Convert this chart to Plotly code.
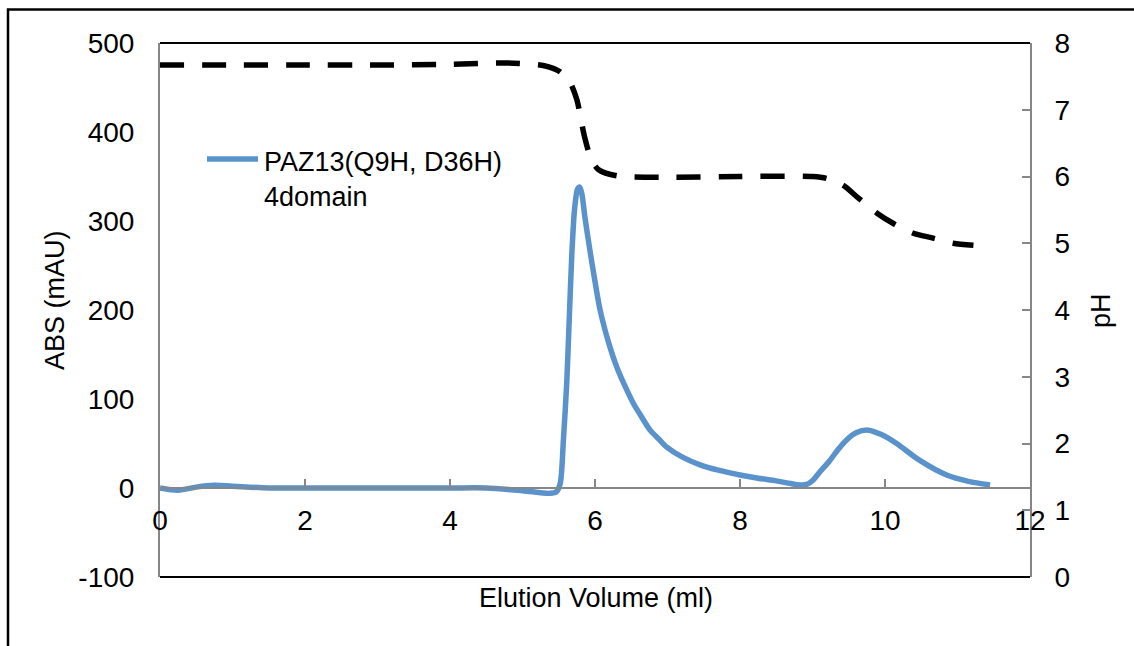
import plotly.graph_objects as go

# Elution profile: absorbance (mAU) vs elution volume (ml)
abs_volume = [0, 0.25, 0.5, 0.75, 1.0, 1.5, 2, 3, 4, 4.5, 5.0, 5.38, 5.47, 5.52,
              5.565, 5.61, 5.645, 5.68, 5.72, 5.76, 5.79, 5.82, 5.86, 5.93, 6.0,
              6.07, 6.2, 6.3, 6.4, 6.53, 6.65, 6.76, 6.88, 6.99, 7.2, 7.45, 7.7,
              8.0, 8.25, 8.5, 8.7, 8.83, 8.92, 9.01, 9.1, 9.24, 9.35, 9.47, 9.6,
              9.77, 9.95, 10.16, 10.48, 10.85, 11.15, 11.45]
abs_mau = [0, -2.5, 1, 3, 2, 0, 0, 0, 0, 0, -3, -6, -4, 5,
           55, 118, 190, 262, 315, 336, 338, 330, 305, 267, 232,
           200, 160, 136, 117, 95, 79, 65, 55, 46, 35, 26, 20,
           14.6, 11, 8, 5, 3.4, 4, 9, 18, 31, 43, 54, 62,
           65, 60, 50, 31, 14.6, 7.5, 3.4]

# pH gradient along the same elution volume
ph_volume = [0, 1, 2, 3, 4, 4.8, 5.3, 5.5, 5.65, 5.75, 5.85, 5.95, 6.05, 6.3,
             7, 8, 9.0, 9.2, 9.42, 9.63, 9.89, 10.11, 10.39, 10.65, 10.94, 11.22]
ph_value = [7.67, 7.67, 7.67, 7.67, 7.68, 7.70, 7.66, 7.58, 7.42, 7.15, 6.62,
            6.25, 6.10, 6.01, 5.99, 6.0, 6.0, 5.97, 5.87, 5.68, 5.45, 5.30,
            5.15, 5.08, 5.0, 4.97]

x_ticks = [0, 2, 4, 6, 8, 10, 12]
abs_ticks = [-100, 0, 100, 200, 300, 400, 500]
abs_tick_text = ["-100", "0", "100", "200", "300", "400", "500"]
series_name = "PAZ13(Q9H, D36H)<br>4domain"

BLUE = "#5A92CC"
GRAY = "#868686"
TICK_FONT = dict(family="Liberation Sans Narrow, Arial Narrow, Liberation Sans, sans-serif",
                 size=28, color="#000000")
TEXT_FONT = dict(family="Liberation Sans, Arial, sans-serif", size=27, color="#000000")

# plot-area geometry in pixels (used for paper-coordinate conversions)
W, H = 1134, 646
L, R, T, B = 160, 104, 43, 69
PW, PH = W - L - R, H - T - B


def px_x(px):
    return (px - L) / PW


def px_y(py):
    return (H - B - py) / PH


fig = go.Figure()

fig.add_trace(go.Scatter(
    x=abs_volume, y=abs_mau, mode="lines", name=series_name,
    line=dict(color=BLUE, width=5.5, shape="spline", smoothing=0.8),
    yaxis="y", showlegend=False,
))

fig.add_trace(go.Scatter(
    x=ph_volume, y=ph_value, mode="lines", name="pH",
    line=dict(color="#000000", width=5.5, dash="24px,18px", shape="spline", smoothing=0.7),
    yaxis="y2", showlegend=False,
))

fig.update_layout(
    width=W, height=H,
    margin=dict(l=L, r=R, t=T, b=B, pad=0),
    paper_bgcolor="white", plot_bgcolor="white",
    xaxis=dict(
        range=[0, 12], tickvals=x_ticks, anchor="free", position=100 / 600,
        showline=True, linecolor=GRAY, linewidth=2,
        ticks="inside", ticklen=8, tickcolor=GRAY, tickwidth=1.5,
        showgrid=False, zeroline=False, tickfont=TICK_FONT,
        ticklabelstandoff=7,
    ),
    yaxis=dict(
        range=[-100, 500], tickvals=abs_ticks, ticktext=abs_tick_text,
        showline=True, linecolor=GRAY, linewidth=2,
        ticks="", showgrid=False, zeroline=False, tickfont=TICK_FONT,
        ticklabelstandoff=18,
    ),
    yaxis2=dict(
        range=[0, 8], dtick=1, overlaying="y", side="right", anchor="x",
        showline=True, linecolor=GRAY, linewidth=2,
        ticks="inside", ticklen=8, tickcolor=GRAY, tickwidth=1.5,
        showgrid=False, zeroline=False, tickfont=TICK_FONT,
        ticklabelstandoff=17,
    ),
)

shapes = [
    # outer chart frame
    dict(type="rect", xref="paper", yref="paper",
         x0=px_x(8), x1=px_x(1150), y0=px_y(660), y1=px_y(9.5),
         line=dict(color="#000000", width=2.5), layer="below"),
    # top and bottom borders of the plot area
    dict(type="line", xref="paper", yref="paper", x0=0, x1=1, y0=1, y1=1,
         line=dict(color="#000000", width=2)),
    dict(type="line", xref="paper", yref="paper", x0=0, x1=1, y0=0, y1=0,
         line=dict(color="#000000", width=2)),
    # legend key
    dict(type="line", xref="paper", yref="paper",
         x0=px_x(207), x1=px_x(258), y0=px_y(159), y1=px_y(159),
         line=dict(color=BLUE, width=5.5)),
]
fig.update_layout(shapes=shapes)

annotations = [
    dict(text=series_name, xref="paper", yref="paper", x=px_x(262), y=px_y(145),
         xanchor="left", yanchor="top", align="left", showarrow=False, font=TEXT_FONT),
    dict(text="Elution Volume (ml)", xref="paper", yref="paper",
         x=px_x(596), y=px_y(598), xanchor="center", yanchor="middle",
         showarrow=False, font=TEXT_FONT),
    dict(text="ABS (mAU)", xref="paper", yref="paper", textangle=-90,
         x=px_x(55), y=px_y(300), xanchor="center", yanchor="middle",
         showarrow=False, font=TEXT_FONT),
    dict(text="pH", xref="paper", yref="paper", textangle=-90,
         x=px_x(1101), y=px_y(311), xanchor="center", yanchor="middle",
         showarrow=False, font=TEXT_FONT),
]
fig.update_layout(annotations=annotations)

fig.write_html("out.html")
